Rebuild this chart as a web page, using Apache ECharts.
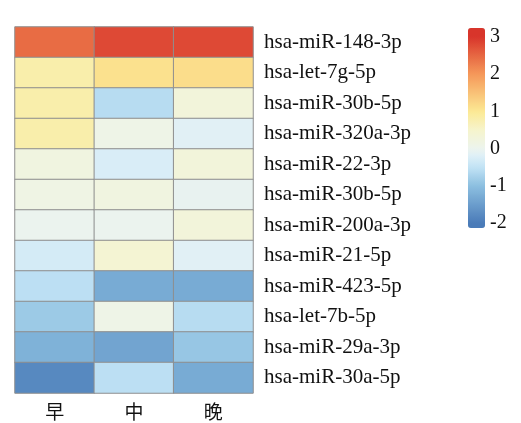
<!DOCTYPE html>
<html><head><meta charset="utf-8">
<script src="https://cdn.jsdelivr.net/npm/echarts@6/dist/echarts.min.js"></script>
<style>html,body{margin:0;padding:0;background:#fff}#c{width:521px;height:423px}</style>
</head><body><div id="c"></div>
<script>
var timePoints = ['早', '中', '晚'];
var mirnas = ['hsa-miR-148-3p','hsa-let-7g-5p','hsa-miR-30b-5p','hsa-miR-320a-3p','hsa-miR-22-3p','hsa-miR-30b-5p ','hsa-miR-200a-3p','hsa-miR-21-5p','hsa-miR-423-5p','hsa-let-7b-5p','hsa-miR-29a-3p','hsa-miR-30a-5p'];
var zao  = [2.45, 0.8, 0.8, 0.8, 0.2, 0.15, 0.0, -0.3, -0.55, -0.85, -1.2, -1.8];
var zhong= [2.8, 1.1, -0.6, 0.1, -0.25, 0.2, 0.0, 0.4, -1.3, 0.1, -1.4, -0.55];
var wan  = [2.8, 1.15, 0.3, -0.15, 0.3, -0.05, 0.3, -0.15, -1.3, -0.6, -0.9, -1.3];
var legendTicks = [-2, -1, 0, 1, 2, 3];

var stopVals = [-2, -1, -0.5, -0.2, 0, 0.5, 1, 2, 3];
var stopCols = ['#4a7bb8', '#8cbfe0', '#c2e3f5', '#deeff7', '#ecf4ee', '#f6f4cc', '#fce994', '#f5985a', '#d8352b'];
var vmMin = -2.13, vmMax = 3.24;
function hex(c){return [parseInt(c.substr(1,2),16),parseInt(c.substr(3,2),16),parseInt(c.substr(5,2),16)];}
function colAt(v){
  if (v <= stopVals[0]) return stopCols[0];
  if (v >= stopVals[stopVals.length-1]) return stopCols[stopCols.length-1];
  for (var i=0;i<stopVals.length-1;i++){
    if (v>=stopVals[i] && v<=stopVals[i+1]){
      var t=(v-stopVals[i])/(stopVals[i+1]-stopVals[i]);
      var a=hex(stopCols[i]), b=hex(stopCols[i+1]);
      return 'rgb('+[0,1,2].map(function(k){return Math.round(a[k]+(b[k]-a[k])*t);}).join(',')+')';
    }
  }
}
var ramp=[]; var N=107;
for (var i=0;i<=N;i++){ ramp.push(colAt(vmMin+(vmMax-vmMin)*i/N)); }

var cols = [zao, zhong, wan];
var data = [];
for (var c=0;c<3;c++) for (var r=0;r<mirnas.length;r++) data.push([c, r, cols[c][r]]);

var chart = echarts.init(document.getElementById('c'));
chart.setOption({
  animation:false,
  backgroundColor:'#fff',
  grid:[
    {left:15, top:27, width:238, height:366},
    {left:468, top:37, width:17, height:186}
  ],
  xAxis:[
    {type:'category', data:timePoints, gridIndex:0, axisLine:{show:false}, axisTick:{show:false},
     axisLabel:{fontFamily:'Noto Sans CJK SC', fontSize:19, color:'#111', margin:9}},
    {type:'value', gridIndex:1, show:false}
  ],
  yAxis:[
    {type:'category', data:mirnas, inverse:true, position:'right', gridIndex:0,
     axisLine:{show:false}, axisTick:{show:false},
     axisLabel:{fontFamily:'Liberation Serif', fontSize:21, color:'#111', margin:11, align:'left',
       formatter:function(v){return v.trim();}}},
    {type:'value', gridIndex:1, min:legendTicks[0], max:legendTicks[legendTicks.length-1], interval:1,
     position:'right', axisLine:{show:false}, axisTick:{show:false}, splitLine:{show:false},
     axisLabel:{fontFamily:'Liberation Serif', fontSize:20, color:'#111', margin:5, align:'left'}}
  ],
  visualMap:{
    type:'continuous', min:vmMin, max:vmMax, seriesIndex:0, calculable:false,
    orient:'vertical', left:453, top:13, itemWidth:17, itemHeight:200, text:['',''],
    showLabel:false, inRange:{color:ramp}
  },
  series:[{
    type:'heatmap', xAxisIndex:0, yAxisIndex:0, data:data,
    itemStyle:{borderColor:'#8e8e8e', borderWidth:1},
    label:{show:false}, emphasis:{disabled:true}
  }]
});
</script></body></html>
